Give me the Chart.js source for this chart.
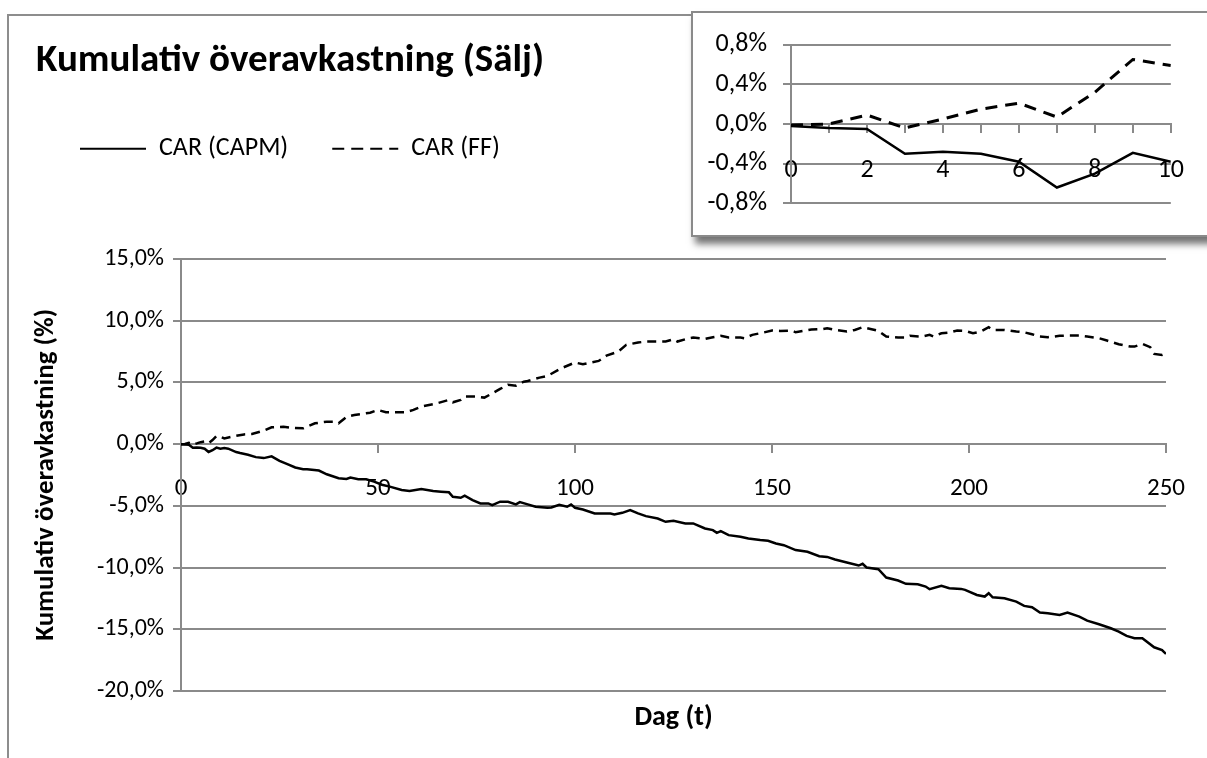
<!DOCTYPE html>
<html>
<head>
<meta charset="utf-8">
<title>Kumulativ överavkastning (Sälj)</title>
<script src="https://cdn.jsdelivr.net/npm/chart.js@4.4.1/dist/chart.umd.min.js"></script>
<style>
  html, body { margin: 0; padding: 0; background: #fff; overflow: hidden; }
  #page { position: relative; width: 1207px; height: 758px; overflow: hidden; }
  #frame { position: absolute; left: 7px; top: 14px; width: 1300px; height: 800px;
           border-left: 2px solid #8d8d8d; border-top: 2px solid #8d8d8d; }
  #main { position: absolute; left: 0; top: 0; }
  #insetBox { position: absolute; left: 691px; top: 11px; width: 540px; height: 222px;
              border: 2px solid #8a8a8a; background: #fff;
              box-shadow: 4px 7px 7px rgba(0,0,0,0.55); }
  #inset { position: absolute; left: 693px; top: 13px; }
</style>
</head>
<body>
<div id="page">
  <div id="frame"></div>
  <canvas id="main" width="1207" height="758"></canvas>
  <div id="insetBox"></div>
  <canvas id="inset" width="514" height="222"></canvas>
</div>
<script>
// Cumulative abnormal return (%) by event day, CAPM model
const capmDays = [0,1,2,3,4,5,6,7,8,9,10,11,12,14,15,17,19,21,23,25,27,29,31,32,35,37,40,42,43,45,47,49,51,53,56,58,61,64,66,68,69,71,72,74,76,78,79,81,83,85,86,88,90,93,94,96,98,99,100,102,105,107,109,110,112,114,116,118,121,123,125,128,130,131,133,135,136,137,139,142,144,147,149,151,153,156,159,162,164,166,169,172,173,174,177,179,182,184,187,189,190,193,195,198,199,202,204,205,206,209,212,214,216,218,220,223,225,228,230,233,236,238,240,242,244,247,249,250];
const capmValues = [-0.02,-0.04,-0.05,-0.30,-0.28,-0.30,-0.38,-0.64,-0.50,-0.29,-0.38,-0.33,-0.38,-0.65,-0.73,-0.87,-1.06,-1.14,-1.00,-1.36,-1.63,-1.90,-2.04,-2.04,-2.15,-2.45,-2.77,-2.83,-2.72,-2.85,-2.85,-3.04,-3.30,-3.45,-3.72,-3.80,-3.64,-3.80,-3.86,-3.91,-4.27,-4.35,-4.18,-4.54,-4.81,-4.81,-4.95,-4.67,-4.68,-4.89,-4.70,-4.89,-5.08,-5.16,-5.14,-4.92,-5.08,-4.89,-5.16,-5.30,-5.62,-5.62,-5.62,-5.70,-5.57,-5.35,-5.62,-5.84,-6.03,-6.30,-6.22,-6.43,-6.43,-6.57,-6.84,-6.97,-7.19,-7.05,-7.38,-7.51,-7.65,-7.78,-7.84,-8.05,-8.19,-8.59,-8.73,-9.08,-9.14,-9.35,-9.59,-9.84,-9.70,-10.00,-10.14,-10.81,-11.05,-11.32,-11.35,-11.54,-11.76,-11.49,-11.68,-11.73,-11.81,-12.22,-12.35,-12.08,-12.41,-12.49,-12.76,-13.11,-13.22,-13.65,-13.70,-13.84,-13.65,-13.97,-14.30,-14.59,-14.92,-15.19,-15.54,-15.73,-15.73,-16.46,-16.68,-17.00];

// Cumulative abnormal return (%) by event day, Fama-French model
const ffDays = [0,1,2,3,4,5,6,7,8,9,10,11,13,16,18,21,23,26,28,31,34,37,39,40,42,44,47,48,50,52,55,57,59,61,64,65,68,69,71,72,75,77,79,81,83,85,87,88,91,93,96,97,100,102,104,106,108,111,113,116,118,121,123,125,126,129,130,133,135,137,139,142,143,145,147,150,152,155,156,158,160,163,164,166,169,171,173,175,177,179,182,184,185,188,190,191,193,195,197,199,201,203,205,206,209,212,214,216,218,220,223,225,228,230,233,235,238,241,242,244,246,247,249,250];
const ffValues = [-0.01,0.00,0.09,-0.04,0.05,0.15,0.21,0.07,0.32,0.65,0.59,0.46,0.60,0.78,0.81,1.08,1.35,1.40,1.32,1.27,1.68,1.81,1.81,1.68,2.20,2.35,2.49,2.54,2.76,2.57,2.57,2.57,2.76,3.03,3.22,3.30,3.57,3.38,3.57,3.84,3.84,3.76,4.10,4.46,4.80,4.73,5.05,5.10,5.38,5.51,6.05,6.20,6.60,6.46,6.60,6.73,7.16,7.49,8.03,8.22,8.30,8.30,8.30,8.49,8.30,8.57,8.62,8.51,8.65,8.76,8.62,8.62,8.57,8.84,8.97,9.19,9.16,9.19,9.05,9.16,9.27,9.32,9.38,9.24,9.11,9.24,9.46,9.32,9.16,8.70,8.62,8.62,8.76,8.70,8.84,8.70,8.97,9.03,9.19,9.16,8.97,9.11,9.46,9.24,9.24,9.11,9.05,8.89,8.70,8.65,8.76,8.78,8.78,8.70,8.57,8.38,8.08,7.89,7.89,8.11,7.84,7.30,7.22,7.35];

// Series and axis labels
const seriesNames = ['CAR (CAPM)', 'CAR (FF)'];
const chartTitle = 'Kumulativ överavkastning (Sälj)';
const yTitle = 'Kumulativ överavkastning (%)';
const xTitle = 'Dag (t)';

// Axis ranges (percent / days)
const mainXTicks = [0, 50, 100, 150, 200, 250];
const mainYRange = [-20, 15, 5];
const insetDays = 10;
const insetYRange = [-0.8, 0.8, 0.4];

const FONT = 'Carlito, Calibri, Lato, "Open Sans", sans-serif';
const GRID = '#8a8a8a';

function toPoints(days, values, maxDay) {
  const pts = [];
  for (let i = 0; i < days.length; i++) {
    if (maxDay === undefined || days[i] <= maxDay) pts.push({ x: days[i], y: values[i] });
  }
  return pts;
}

function pct(v) {
  if (Math.abs(v) < 1e-9) v = 0;
  return v.toFixed(1).replace('.', ',') + '%';
}

// ---------- main chart ----------
new Chart(document.getElementById('main'), {
  type: 'line',
  data: {
    datasets: [
      { label: seriesNames[0], data: toPoints(capmDays, capmValues),
        borderColor: '#000', borderWidth: 2.5, pointRadius: 0, tension: 0, fill: false,
        xAxisID: 'x', yAxisID: 'y' },
      { label: seriesNames[1], data: toPoints(ffDays, ffValues),
        borderColor: '#000', borderWidth: 2.5, borderDash: [9, 6], pointRadius: 0, tension: 0, fill: false,
        xAxisID: 'x', yAxisID: 'y' }
    ]
  },
  options: {
    responsive: false,
    devicePixelRatio: 1,
    animation: false,
    layout: { padding: { left: 36, right: 38, top: 0, bottom: 0 } },
    plugins: {
      title: {
        display: true, text: chartTitle, align: 'start', color: '#000',
        font: { family: FONT, size: 39, weight: 'bold' },
        padding: { top: 38, bottom: 7 }
      },
      legend: {
        display: true, position: 'top', align: 'start',
        labels: {
          color: '#000', font: { family: FONT, size: 26 },
          usePointStyle: true, pointStyleWidth: 66, padding: 44,
          generateLabels: () => [
            { text: seriesNames[0], strokeStyle: '#000', fillStyle: 'rgba(0,0,0,0)', lineWidth: 2,
              lineDash: [], pointStyle: 'line', datasetIndex: 0, fontColor: '#000' },
            { text: seriesNames[1], strokeStyle: '#000', fillStyle: 'rgba(0,0,0,0)', lineWidth: 2,
              lineDash: [12, 7], pointStyle: 'line', datasetIndex: 1, fontColor: '#000' }
          ]
        }
      },
      tooltip: { enabled: false }
    },
    scales: {
      x: {
        type: 'linear', position: { y: 0 }, min: 0, max: 250,
        afterBuildTicks: (s) => { s.ticks = mainXTicks.map(v => ({ value: v })); },
        ticks: { color: '#000', font: { family: FONT, size: 25 }, padding: 22, maxRotation: 0,
                 callback: (v) => String(v) },
        grid: { drawOnChartArea: false, tickLength: 8, color: GRID, lineWidth: 2 },
        border: { color: GRID, width: 2 }
      },
      gap: {
        type: 'linear', axis: 'x', position: 'top', min: 0, max: 1,
        ticks: { display: false }, grid: { display: false }, border: { display: false },
        afterFit: (s) => { s.height = 87; }
      },
      xt: {
        type: 'linear', axis: 'x', position: 'bottom', min: 0, max: 1,
        ticks: { display: false }, grid: { display: false }, border: { display: false },
        title: { display: true, text: xTitle, color: '#000',
                 font: { family: FONT, size: 28, weight: 'bold' }, padding: { top: 0, bottom: 23 } },
        afterFit: (s) => { s.height = 67; }
      },
      y: {
        type: 'linear', position: 'left', min: mainYRange[0], max: mainYRange[1],
        ticks: { stepSize: mainYRange[2], color: '#000', font: { family: FONT, size: 24 }, padding: 9,
                 callback: (v) => pct(v) },
        grid: { color: GRID, lineWidth: 2, tickLength: 8 },
        border: { color: GRID, width: 2 },
        title: { display: true, text: yTitle, color: '#000',
                 font: { family: FONT, size: 27, weight: 'bold' }, padding: { top: -6, bottom: 0 } },
        afterFit: (s) => { s.width = 145; }
      }
    }
  }
});

// ---------- inset: first ten event days ----------
new Chart(document.getElementById('inset'), {
  type: 'line',
  data: {
    datasets: [
      { label: seriesNames[0], data: toPoints(capmDays, capmValues, insetDays),
        borderColor: '#000', borderWidth: 2.5, pointRadius: 0, tension: 0, fill: false },
      { label: seriesNames[1], data: toPoints(ffDays, ffValues, insetDays),
        borderColor: '#000', borderWidth: 3, borderDash: [12, 8], pointRadius: 0, tension: 0, fill: false }
    ]
  },
  options: {
    responsive: false,
    devicePixelRatio: 1,
    animation: false,
    layout: { padding: { left: 0, right: 22, top: 19, bottom: 21 } },
    plugins: { legend: { display: false }, title: { display: false }, tooltip: { enabled: false } },
    scales: {
      x: {
        type: 'linear', position: { y: 0 }, min: 0, max: insetDays,
        ticks: { stepSize: 1, color: '#000', font: { family: FONT, size: 26 }, padding: 23, maxRotation: 0,
                 autoSkip: false, callback: (v) => (v % 2 === 0 ? String(v) : '') },
        grid: { drawOnChartArea: false, tickLength: 8, color: GRID, lineWidth: 2 },
        border: { color: GRID, width: 2 }
      },
      y: {
        type: 'linear', position: 'left', min: insetYRange[0], max: insetYRange[1],
        ticks: { stepSize: insetYRange[2], color: '#000', font: { family: FONT, size: 26 }, padding: 16,
                 callback: (v) => pct(v) },
        grid: { color: GRID, lineWidth: 2, tickLength: 8 },
        border: { color: GRID, width: 2 },
        afterFit: (s) => { s.width = 98; }
      }
    }
  }
});
</script>
</body>
</html>
